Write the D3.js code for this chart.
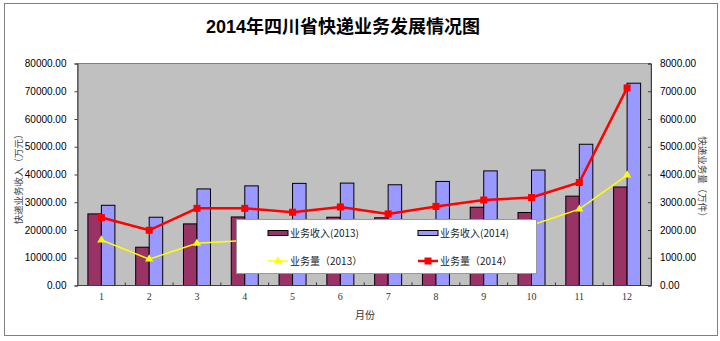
<!DOCTYPE html>
<html><head><meta charset="utf-8">
<script src="https://cdn.jsdelivr.net/npm/d3@7"></script>
<style>body{margin:0;background:#fff;}svg{display:block;}</style>
</head><body>
<svg id="chart" width="720" height="341"></svg>
<script>
const months = ["1","2","3","4","5","6","7","8","9","10","11","12"];
const revenue2013 = [25800, 13800, 22200, 24700, 23200, 24600, 24400, 22800, 28200, 26300, 32200, 35500];
const revenue2014 = [28900, 24600, 34800, 35900, 36800, 36900, 36300, 37500, 41300, 41600, 50900, 72900];
const volume2013 = [1640, 950, 1520, 1620, 1700, 1780, 1850, 1950, 2060, 2170, 2750, 3980];
const volume2014 = [2450, 1990, 2780, 2780, 2640, 2830, 2580, 2850, 3080, 3170, 3710, 7120];
const leftTicks = [0,10000,20000,30000,40000,50000,60000,70000,80000];
const rightTicks = [0,1000,2000,3000,4000,5000,6000,7000,8000];
const title = "2014年四川省快递业务发展情况图";

const svg = d3.select("#chart");
const L = 77.5, R = 651, T = 63.5, B = 285.5;

svg.append("rect").attr("x",4.5).attr("y",3.5).attr("width",713).attr("height",332)
  .attr("fill","#fff").attr("stroke","#808080").attr("stroke-width",1);

svg.append("text").attr("x",343).attr("y",33).attr("text-anchor","middle")
  .attr("font-family","'Liberation Sans','Noto Sans CJK SC',sans-serif").attr("font-weight","bold")
  .attr("font-size",18).attr("fill","#000").text(title);

const x = d3.scaleBand().domain(months).range([L,R]).paddingInner(0.435).paddingOuter(0.2175);
const xs = d3.scaleBand().domain(["2013","2014"]).range([0,x.bandwidth()]);
const yL = d3.scaleLinear().domain([0,80000]).range([B,T]);
const yR = d3.scaleLinear().domain([0,8000]).range([B,T]);

svg.append("rect").attr("x",L).attr("y",T).attr("width",R-L).attr("height",B-T)
  .attr("fill","#c0c0c0").attr("stroke","#808080").attr("stroke-width",1);

// category boundary ticks
const step = x.step();
svg.append("g").selectAll("line").data(d3.range(1,12)).join("line")
  .attr("x1",i=>L+i*step).attr("x2",i=>L+i*step).attr("y1",B-3).attr("y2",B)
  .attr("stroke","#333").attr("stroke-width",1);

const fmt = d3.format(".2f");
const numFont = "'Liberation Sans',Arial,sans-serif";
const gL = svg.append("g").attr("transform",`translate(${L},0)`)
  .call(d3.axisLeft(yL).tickValues(leftTicks).tickFormat(fmt).tickSize(3).tickPadding(8));
const gR = svg.append("g").attr("transform",`translate(${R},0)`)
  .call(d3.axisRight(yR).tickValues(rightTicks).tickFormat(fmt).tickSize(-3).tickPadding(9));
[gL,gR].forEach(g=>{
  g.select(".domain").attr("stroke","#404040");
  g.selectAll(".tick line").attr("stroke","#404040");
  g.selectAll("text").attr("font-family",numFont).attr("font-size",10).attr("fill","#000");
});

// bars
const groups = svg.append("g").selectAll("g").data(months).join("g")
  .attr("transform",d=>`translate(${x(d)},0)`);
groups.append("rect").attr("x",xs("2013")).attr("width",xs.bandwidth())
  .attr("y",(d,i)=>yL(revenue2013[i])).attr("height",(d,i)=>B-yL(revenue2013[i]))
  .attr("fill","#993366").attr("stroke","#000").attr("stroke-width",1);
groups.append("rect").attr("x",xs("2014")).attr("width",xs.bandwidth())
  .attr("y",(d,i)=>yL(revenue2014[i])).attr("height",(d,i)=>B-yL(revenue2014[i]))
  .attr("fill","#9999ff").attr("stroke","#000").attr("stroke-width",1);

// bottom axis line
svg.append("line").attr("x1",L).attr("x2",R).attr("y1",B).attr("y2",B).attr("stroke","#404040");

const cx = m => x(m) + x.bandwidth()/2;
const lineGen = arr => d3.line().x((d,i)=>cx(months[i])).y(d=>yR(d))(arr);

svg.append("path").attr("d",lineGen(volume2013)).attr("fill","none").attr("stroke","#ffff00").attr("stroke-width",1.5);
svg.append("g").selectAll("path").data(volume2013).join("path")
  .attr("d",d3.symbol(d3.symbolTriangle,30))
  .attr("transform",(d,i)=>`translate(${cx(months[i])},${yR(d)})`).attr("fill","#ffff00");

svg.append("path").attr("d",lineGen(volume2014)).attr("fill","none").attr("stroke","#ff0000").attr("stroke-width",2.5);
svg.append("g").selectAll("rect").data(volume2014).join("rect")
  .attr("x",(d,i)=>cx(months[i])-3.5).attr("y",d=>yR(d)-3.5).attr("width",7).attr("height",7).attr("fill","#ff0000");

// month labels
svg.append("g").selectAll("text").data(months).join("text")
  .attr("x",d=>cx(d)).attr("y",300).attr("text-anchor","middle")
  .attr("font-family","'Liberation Serif','DejaVu Serif',serif").attr("font-size",10).attr("fill","#333").text(d=>d);

const cjk = "'Noto Sans CJK SC',sans-serif";
svg.append("text").attr("x",365).attr("y",319).attr("text-anchor","middle")
  .attr("font-family",cjk).attr("font-size",10).attr("fill","#333").text("月份");
svg.append("text").attr("transform","translate(22,177) rotate(-90)").attr("text-anchor","middle")
  .attr("font-family",cjk).attr("font-size",9.5).attr("fill","#444").text("快递业务收入（万元）");
svg.append("text").attr("transform","translate(699,179) rotate(90)").attr("text-anchor","middle")
  .attr("font-family",cjk).attr("font-size",9.5).attr("fill","#444").text("快递业务量（万件）");

// legend
const leg = svg.append("g");
leg.append("rect").attr("x",236.5).attr("y",219.5).attr("width",300).attr("height",54)
  .attr("fill","#fff").attr("stroke","#999").attr("stroke-width",1);
const legItems = [
  {label:"业务收入(2013)", type:"bar", color:"#993366", x:268, y:233},
  {label:"业务收入(2014)", type:"bar", color:"#9999ff", x:418, y:233},
  {label:"业务量（2013）", type:"tri", color:"#ffff00", x:268, y:261},
  {label:"业务量（2014）", type:"sq", color:"#ff0000", x:418, y:261}
];
legItems.forEach(it=>{
  if(it.type==="bar"){
    leg.append("rect").attr("x",it.x).attr("y",it.y-2.5).attr("width",20).attr("height",5)
      .attr("fill",it.color).attr("stroke","#000").attr("stroke-width",1);
  } else {
    leg.append("line").attr("x1",it.x).attr("x2",it.x+20).attr("y1",it.y).attr("y2",it.y)
      .attr("stroke",it.color).attr("stroke-width",it.type==="sq"?2.5:1.5);
    if(it.type==="tri") leg.append("path").attr("d",d3.symbol(d3.symbolTriangle,30)).attr("transform",`translate(${it.x+10},${it.y})`).attr("fill",it.color);
    else leg.append("rect").attr("x",it.x+6.5).attr("y",it.y-3.5).attr("width",7).attr("height",7).attr("fill",it.color);
  }
  leg.append("text").attr("x",it.x+22).attr("y",it.y+3.5).attr("font-family",cjk).attr("font-size",10)
    .attr("fill","#222").text(it.label);
});
</script>
</body></html>
